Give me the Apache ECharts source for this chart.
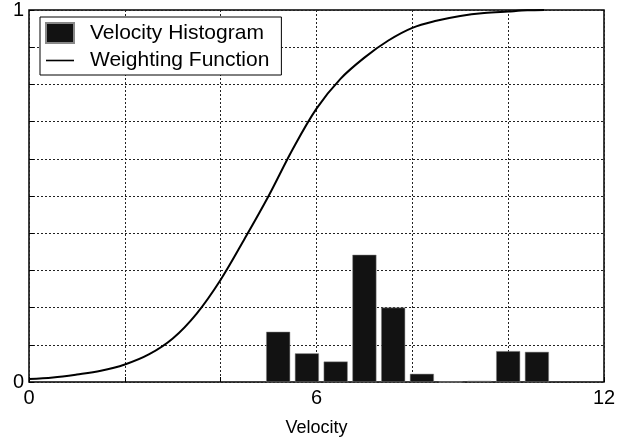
<!DOCTYPE html>
<html><head><meta charset="utf-8">
<script src="https://cdn.jsdelivr.net/npm/echarts@6/dist/echarts.min.js"></script>
<style>html,body{margin:0;padding:0;background:#fff}#c{width:628px;height:446px}</style>
</head><body><div id="c"></div>
<script>
const binCenters = [5.2, 5.8, 6.4, 7.0, 7.6, 8.2, 8.8, 9.4, 10.0, 10.6];
const histValues = [0.135, 0.077, 0.055, 0.342, 0.20, 0.022, 0, 0.003, 0.083, 0.081];
const curveX = [0, 0.5, 1.0, 1.5, 2.0, 2.5, 3.0, 3.5, 4.0, 4.5, 5.0, 5.5, 6.0, 6.5, 7.0, 7.5, 8.0, 8.5, 9.0, 9.5, 10.0, 10.4, 10.75];
const curveY = [0.008, 0.012, 0.02, 0.03, 0.047, 0.074, 0.117, 0.184, 0.275, 0.385, 0.50, 0.625, 0.735, 0.815, 0.872, 0.918, 0.952, 0.971, 0.984, 0.992, 0.996, 0.999, 1.0];
const xTickLabels = [0, 6, 12];
const yTickLabels = [0, 1];

const font = 'Liberation Sans, Arial, Helvetica, sans-serif';
const chart = echarts.init(document.getElementById('c'));
chart.setOption({
  animation: false,
  backgroundColor: '#fff',
  grid: {left: 29, right: 24, top: 10, bottom: 64, show: true, borderColor: '#000', borderWidth: 1.5, backgroundColor: '#fff'},
  legend: {
    left: 40, top: 17, orient: 'vertical', itemWidth: 28, itemHeight: 20, itemGap: 6,
    padding: [5, 12, 4, 5],
    borderColor: '#000', borderWidth: 1, backgroundColor: '#fff',
    textStyle: {fontFamily: font, fontSize: 21, color: '#000', padding: [0, 0, 0, 11]},
    data: [
      {name: 'Velocity Histogram', icon: 'rect'},
      {name: 'Weighting Function', icon: 'path://M0,0 L28,0 L28,1.6 L0,1.6 Z'}
    ]
  },
  xAxis: {
    type: 'value', min: 0, max: 12, interval: 2,
    name: 'Velocity', nameLocation: 'middle', nameGap: 37,
    nameTextStyle: {fontFamily: font, fontSize: 18, color: '#000'},
    axisLine: {show: false},
    axisTick: {show: true, inside: true, length: 5, lineStyle: {color: '#000'}},
    axisLabel: {fontFamily: font, fontSize: 20, color: '#000', margin: 6,
      formatter: v => xTickLabels.includes(v) ? String(v) : ''},
    splitLine: {show: true, lineStyle: {type: [2, 2], color: '#222', width: 1}}
  },
  yAxis: {
    type: 'value', min: 0, max: 1, interval: 0.1,
    axisLine: {show: false},
    axisTick: {show: true, inside: true, length: 5, lineStyle: {color: '#000'}},
    axisLabel: {fontFamily: font, fontSize: 20, color: '#000', margin: 5,
      formatter: v => yTickLabels.some(t => Math.abs(t - v) < 1e-9) ? String(Math.round(v)) : ''},
    splitLine: {show: true, lineStyle: {type: [2, 2], color: '#222', width: 1}}
  },
  series: [
    {
      name: 'Velocity Histogram', type: 'bar', barWidth: 24,
      itemStyle: {color: '#121212', borderColor: '#888', borderWidth: 0.5},
      data: binCenters.map((x, i) => [x, histValues[i]])
    },
    {
      name: 'Weighting Function', type: 'line', symbol: 'none', smooth: 0.35,
      lineStyle: {color: '#000', width: 2},
      itemStyle: {color: '#000'},
      data: curveX.map((x, i) => [x, curveY[i]])
    }
  ]
});
</script></body></html>
